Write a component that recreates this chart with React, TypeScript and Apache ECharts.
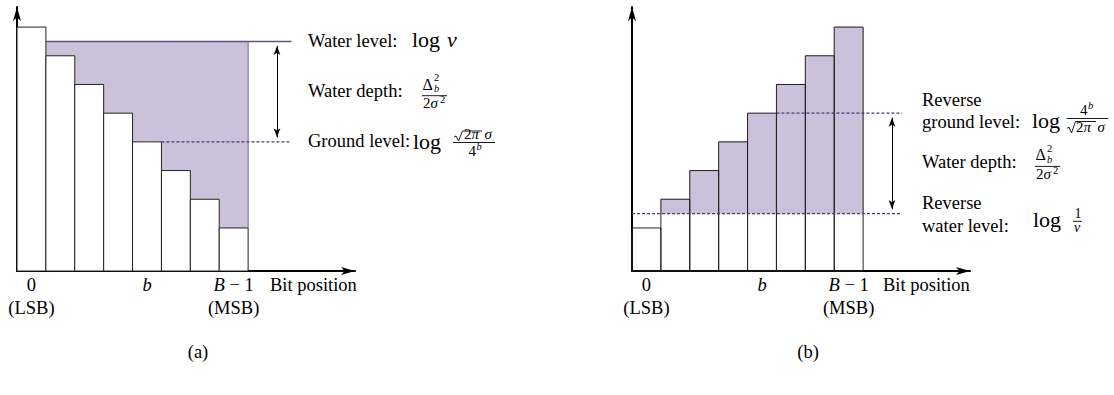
import React, { useEffect, useRef } from 'react';
import * as echarts from 'echarts';

// ---------------- data ----------------
const bitIndex = [0, 1, 2, 3, 4, 5, 6, 7];
const heightsA = [8.5, 7.5, 6.5, 5.5, 4.5, 3.5, 2.5, 1.5];
const heightsB = [1.5, 2.5, 3.5, 4.5, 5.5, 6.5, 7.5, 8.5];
const waterLevelA = 8.0;
const groundLevelA = 4.5;
const reverseGroundB = 5.5;
const reverseWaterB = 2.0;
const tickValues = [0.5, 4.5, 7.5];
const tickMain = ['0', 'b', 'B − 1'];
const tickSub = ['(LSB)', '', '(MSB)'];
const axisTitle = 'Bit position';
const captions = ['(a)', '(b)'];

// ---------------- layout ----------------
const FONT = '"Liberation Serif", "Times New Roman", serif';
const X_MAX = 11.7;
const Y_MAX = 9.2;
const GRID_TOP = 7;
const GRID_H = 264;
const GRID_W = 338;
const LEFTS = [17, 632];
const PX_PER_Y = GRID_H / Y_MAX;
const ARROW_H = 9;
const ARROW_INSET = ARROW_H / 2 / PX_PER_Y;
const LINE_END_A = 9.5;
const LINE_END_B = 9.35;
const ARROW_X = 9.0;

const FILL = '#cbc1da';
const WATER_LINE = '#5f5080';
const EDGE_LINE = '#7c7094';
const DASH = '#4a3a70';
const BAR_STROKE = '#222';

const italicize = (s: string) =>
  s
    .split(/([A-Za-z]+)/)
    .filter((p) => p.length > 0)
    .map((p) => (/^[A-Za-z]+$/.test(p) ? `{i|${p}}` : `{n|${p}}`))
    .join('');

const labelFormatter = (v: number) => {
  const k = tickValues.indexOf(v);
  if (k < 0) return '';
  const main = italicize(tickMain[k]);
  return tickSub[k] ? `${main}\n{n|${tickSub[k]}}` : main;
};

const richStyles = {
  n: { fontFamily: FONT, fontSize: 18.5, lineHeight: 23, align: 'center', color: '#000' },
  i: { fontFamily: FONT, fontSize: 18.5, lineHeight: 23, align: 'center', color: '#000', fontStyle: 'italic' },
};

// ---------------- graphic helpers ----------------
function txt(text: string, x: number, baseline: number, size: number, italic = false, align = 'left') {
  return {
    type: 'text',
    x,
    y: baseline - 0.34 * size,
    silent: true,
    style: {
      text,
      fontSize: size,
      fontFamily: FONT,
      fontStyle: italic ? 'italic' : 'normal',
      fill: '#000',
      align,
      verticalAlign: 'middle',
    },
  };
}
function midTxt(text: string, x: number, yMid: number, size: number, align = 'left') {
  return {
    type: 'text',
    x,
    y: yMid,
    silent: true,
    style: { text, fontSize: size, fontFamily: FONT, fill: '#000', align, verticalAlign: 'middle' },
  };
}
function hline(x1: number, x2: number, y: number, w = 0.9) {
  return { type: 'line', silent: true, shape: { x1, y1: y, x2, y2: y }, style: { stroke: '#000', lineWidth: w } };
}
function radical(x: number, top: number, bottom: number, xEnd: number) {
  const mid = (top + bottom) / 2 + 1;
  return {
    type: 'polyline',
    silent: true,
    shape: {
      points: [
        [x, mid],
        [x + 2, mid - 1],
        [x + 4.5, bottom],
        [x + 8.5, top],
        [xEnd, top],
      ],
    },
    style: { stroke: '#000', lineWidth: 0.9, fill: null },
  };
}
function depthFrac(x: number, bar: number) {
  return [
    txt('Δ', x + 0.5, bar - 6, 16),
    txt('2', x + 12, bar - 14.5, 10.5),
    txt('b', x + 12, bar - 3.5, 10.5, true),
    hline(x, x + 25, bar),
    txt('2', x + 1, bar + 12.5, 15),
    txt('σ', x + 8.5, bar + 12.5, 15, true),
    txt('2', x + 18, bar + 7.5, 10.5),
  ];
}

const graphics: any[] = [
  // left panel labels
  midTxt('Water level:', 308, 41, 18.5),
  midTxt('Water depth:', 308, 91, 18.5),
  midTxt('Ground level:', 308, 141.4, 18.5),
  txt('log', 412, 47, 22),
  txt('ν', 447, 47, 22, true),
  ...depthFrac(422, 95.7),
  txt('log', 413, 148.5, 22),
  radical(454, 131, 141, 482),
  txt('2', 464, 139.5, 15),
  txt('π', 471.5, 139.5, 15, true),
  txt('σ', 484.5, 139.5, 15, true),
  hline(453, 495, 142.5),
  txt('4', 468.5, 156, 15),
  txt('b', 476.5, 150, 10.5, true),
  // right panel labels
  midTxt('Reverse', 922, 99.5, 18.5),
  midTxt('ground level:', 922, 121.7, 18.5),
  midTxt('Water depth:', 922, 161.7, 18.5),
  midTxt('Reverse', 922, 203, 18.5),
  midTxt('water level:', 922, 225.5, 18.5),
  txt('log', 1032, 128, 22),
  txt('4', 1080, 115.5, 15),
  txt('b', 1088, 109, 10.5, true),
  hline(1066.7, 1108.3, 118.5),
  radical(1067, 121.5, 133, 1096),
  txt('2', 1076, 132.5, 15),
  txt('π', 1083.5, 132.5, 15, true),
  txt('σ', 1097.5, 132.5, 15, true),
  ...depthFrac(1035, 166.4),
  txt('log', 1033, 226.5, 22),
  txt('1', 1074.5, 218.5, 14),
  hline(1073, 1082, 221.3),
  txt('ν', 1074, 232, 14, true),
  // axis titles
  midTxt(axisTitle, 270, 284.7, 18.5),
  midTxt(axisTitle, 883, 284.7, 18.5),
  // captions
  midTxt(captions[0], 198, 352, 18.5, 'center'),
  midTxt(captions[1], 808, 352, 18.5, 'center'),
];

// ---------------- series ----------------
const barsA = bitIndex.map((b, i) => [b, heightsA[i]]);
const barsB = bitIndex.map((b, i) => [b, heightsB[i]]);
const firstSubmergedA = heightsA.findIndex((h) => h < waterLevelA);
const groundStartA = heightsA.findIndex((h) => h < groundLevelA);
const reverseGroundStartB = heightsB.findIndex((h) => h > reverseGroundB);

const fillA = (params: any, api: any) => {
  const i = api.value(0);
  const h = api.value(1);
  if (h >= waterLevelA) return null;
  const p0 = api.coord([i, waterLevelA]);
  const p1 = api.coord([i + 1, h]);
  return {
    type: 'rect',
    shape: { x: p0[0], y: p0[1], width: p1[0] - p0[0], height: p1[1] - p0[1] },
    style: { fill: FILL, stroke: FILL, lineWidth: 0.8 },
  };
};
const fillB = (params: any, api: any) => {
  const i = api.value(0);
  const h = api.value(1);
  if (h <= reverseWaterB) return null;
  const p0 = api.coord([i, h]);
  const p1 = api.coord([i + 1, reverseWaterB]);
  return {
    type: 'rect',
    shape: { x: p0[0], y: p0[1], width: p1[0] - p0[0], height: p1[1] - p0[1] },
    style: { fill: FILL, stroke: FILL, lineWidth: 0.8 },
  };
};
const barItem = (fill: string) => (params: any, api: any) => {
  const i = api.value(0);
  const h = api.value(1);
  const p0 = api.coord([i, h]);
  const p1 = api.coord([i + 1, 0]);
  return {
    type: 'rect',
    shape: { x: p0[0], y: p0[1], width: p1[0] - p0[0], height: p1[1] - p0[1] },
    style: { fill, stroke: BAR_STROKE, lineWidth: 1 },
  };
};

const lineSeries = (g: number, data: number[][], color: string, width: number, dashed: boolean, extra: any = {}) => ({
  type: 'line',
  xAxisIndex: g,
  yAxisIndex: g,
  data,
  silent: true,
  showSymbol: false,
  symbol: 'none',
  lineStyle: { color, width, type: dashed ? [3, 2] : 'solid' },
  ...extra,
});

const arrowMark = (x: number, yTop: number, yBottom: number) => ({
  markLine: {
    silent: true,
    symbol: ['arrow', 'arrow'],
    symbolSize: [5, ARROW_H],
    label: { show: false },
    lineStyle: { color: '#000', width: 1, type: 'solid' },
    data: [[{ coord: [x, yTop - ARROW_INSET] }, { coord: [x, yBottom + ARROW_INSET] }]],
  },
});

const option: any = {
  animation: false,
  grid: LEFTS.map((left) => ({ left, top: GRID_TOP, width: GRID_W, height: GRID_H })),
  xAxis: LEFTS.map((_, g) => ({
    type: 'value',
    gridIndex: g,
    min: 0,
    max: X_MAX,
    interval: 0.5,
    axisLine: {
      show: true,
      onZero: false,
      symbol: ['none', 'arrow'],
      symbolSize: [6, 14],
      lineStyle: { color: '#000', width: 2 },
    },
    axisTick: { show: false },
    splitLine: { show: false },
    axisLabel: {
      show: true,
      margin: 2.2,
      formatter: labelFormatter,
      rich: richStyles,
      showMinLabel: true,
      showMaxLabel: true,
    },
  })),
  yAxis: LEFTS.map((_, g) => ({
    type: 'value',
    gridIndex: g,
    min: 0,
    max: Y_MAX,
    axisLine: {
      show: true,
      onZero: false,
      symbol: ['none', 'arrow'],
      symbolSize: [6, 14],
      lineStyle: { color: '#000', width: 2 },
    },
    axisTick: { show: false },
    axisLabel: { show: false },
    splitLine: { show: false },
  })),
  series: [
    { type: 'custom', xAxisIndex: 0, yAxisIndex: 0, data: barsA, renderItem: fillA, silent: true, clip: false },
    { type: 'custom', xAxisIndex: 0, yAxisIndex: 0, data: barsA, renderItem: barItem('#fff'), silent: true, clip: false },
    lineSeries(0, [[firstSubmergedA, waterLevelA], [LINE_END_A, waterLevelA]], WATER_LINE, 1.5, false),
    lineSeries(0, [[bitIndex.length, heightsA[heightsA.length - 1]], [bitIndex.length, waterLevelA]], EDGE_LINE, 1, false),
    lineSeries(0, [[groundStartA, groundLevelA], [LINE_END_A, groundLevelA]], DASH, 1.3, true, arrowMark(ARROW_X, waterLevelA, groundLevelA)),
    { type: 'custom', xAxisIndex: 1, yAxisIndex: 1, data: barsB, renderItem: fillB, silent: true, clip: false },
    { type: 'custom', xAxisIndex: 1, yAxisIndex: 1, data: barsB, renderItem: barItem('none'), silent: true, clip: false },
    lineSeries(1, [[0, reverseWaterB], [LINE_END_B, reverseWaterB]], DASH, 1.3, true),
    lineSeries(1, [[reverseGroundStartB, reverseGroundB], [LINE_END_B, reverseGroundB]], DASH, 1.3, true, arrowMark(ARROW_X, reverseGroundB, reverseWaterB)),
  ],
  graphic: graphics,
};

export default function App() {
  const ref = useRef<HTMLDivElement>(null);
  useEffect(() => {
    const chart = echarts.init(ref.current as HTMLDivElement, null, { renderer: 'svg' });
    chart.setOption(option);
    return () => chart.dispose();
  }, []);
  return (
    <div
      ref={ref}
      style={{ position: 'fixed', left: 0, top: 0, width: 1114, height: 395, background: '#fff' }}
    />
  );
}
